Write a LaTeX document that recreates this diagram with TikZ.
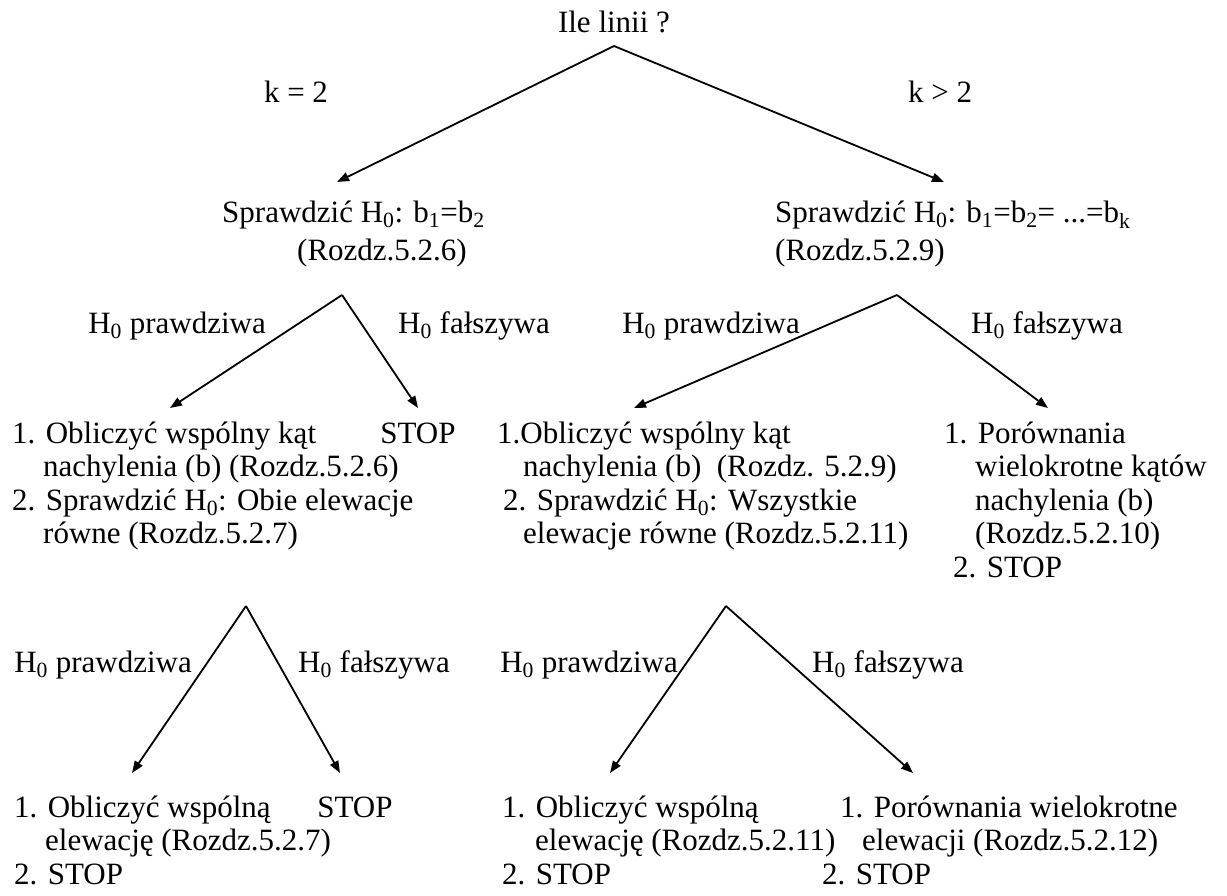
\documentclass[tikz,border=0pt]{standalone}
\usepackage{fontspec}
\setmainfont{Liberation Serif}
\usetikzlibrary{arrows.meta}
\newcommand{\ix}[1]{\textsubscript{#1}}

\begin{document}
\begin{tikzpicture}[x=1pt, y=-1pt,
    txt/.style={anchor=base west, inner sep=0pt, align=left,
        font=\fontsize{31}{33.5}\selectfont},
    arr/.style={line width=1.8pt, -{Triangle[length=12pt, width=9pt]}}]
    \useasboundingbox (0,0) rectangle (1227,895);

    % level 0 (multi-line nodes are placed at the baseline of their last line)
    \node[txt, anchor=base] (ile) at (614,32) {Ile linii ?};
    \node[txt, anchor=base] (kdwa) at (296,102) {k = 2};
    \node[txt, anchor=base] (kwiecej) at (940,102) {k > 2};
    \coordinate (v0) at (614,46);
    \coordinate (t0l) at (337,182);
    \coordinate (t0r) at (944,182);
    \draw[arr] (v0) -- (t0l);
    \draw[arr] (v0) -- (t0r);

    % level 1
    \node[txt] (sprA) at (222,260)
        {Sprawdzić H\ix{0}: b\ix{1}=b\ix{2}\\[4.5pt]\hspace*{75pt}(Rozdz.5.2.6)};
    \node[txt] (sprB) at (775,260)
        {Sprawdzić H\ix{0}: b\ix{1}=b\ix{2}= ...=b\ix{k}\\[4.5pt](Rozdz.5.2.9)};

    \coordinate (vA) at (342,295);
    \coordinate (tAl) at (170,408);
    \coordinate (tAr) at (418,408);
    \draw[arr] (vA) -- (tAl);
    \draw[arr] (vA) -- (tAr);
    \node[txt, anchor=base east] (prA) at (266,333) {H\ix{0} prawdziwa};
    \node[txt] (faA) at (398,333) {H\ix{0} fałszywa};

    \coordinate (vB) at (897,295);
    \coordinate (tBl) at (634,408);
    \coordinate (tBr) at (1048,408);
    \draw[arr] (vB) -- (tBl);
    \draw[arr] (vB) -- (tBr);
    \node[txt, anchor=base east] (prB) at (800,333) {H\ix{0} prawdziwa};
    \node[txt] (faB) at (971,333) {H\ix{0} fałszywa};

    % level 2
    \node[txt] (obA) at (12,543.5)
        {1. Obliczyć wspólny kąt\\
         \hspace*{31pt}nachylenia (b) (Rozdz.5.2.6)\\
         2. Sprawdzić H\ix{0}: Obie elewacje\\
         \hspace*{31pt}równe (Rozdz.5.2.7)};
    \node[txt, anchor=base] (stopA) at (418,443) {STOP};
    \node[txt] (obB) at (497,543.5)
        {1.Obliczyć wspólny kąt\\
         \hspace*{26pt}nachylenia (b)\ \ (Rozdz. 5.2.9)\\
         \hspace*{6pt}2. Sprawdzić H\ix{0}: Wszystkie\\
         \hspace*{26pt}elewacje równe (Rozdz.5.2.11)};
    \node[txt] (poB) at (944,577)
        {1. Porównania\\
         \hspace*{31pt}wielokrotne kątów\\
         \hspace*{31pt}nachylenia (b)\\
         \hspace*{31pt}(Rozdz.5.2.10)\\
         \hspace*{9pt}2. STOP};

    \coordinate (vC) at (246,606);
    \coordinate (tCl) at (132,773);
    \coordinate (tCr) at (340,773);
    \draw[arr] (vC) -- (tCl);
    \draw[arr] (vC) -- (tCr);
    \node[txt, anchor=base east] (prC) at (192,672) {H\ix{0} prawdziwa};
    \node[txt] (faC) at (298,672) {H\ix{0} fałszywa};

    \coordinate (vD) at (726,606);
    \coordinate (tDl) at (610,773);
    \coordinate (tDr) at (913,773);
    \draw[arr] (vD) -- (tDl);
    \draw[arr] (vD) -- (tDr);
    \node[txt, anchor=base east] (prD) at (678,672) {H\ix{0} prawdziwa};
    \node[txt] (faD) at (812,672) {H\ix{0} fałszywa};

    % level 3
    \node[txt] (elC) at (14,884)
        {1. Obliczyć wspólną\\
         \hspace*{31pt}elewację (Rozdz.5.2.7)\\
         2. STOP};
    \node[txt, anchor=base] (stopC) at (355,817) {STOP};
    \node[txt] (elD) at (502,884)
        {1. Obliczyć wspólną\\
         \hspace*{33pt}elewację (Rozdz.5.2.11)\\
         2. STOP};
    \node[txt] (poD) at (822,884)
        {\hspace*{18pt}1. Porównania wielokrotne\\
         \hspace*{40pt}elewacji (Rozdz.5.2.12)\\
         2. STOP};
\end{tikzpicture}
\end{document}
